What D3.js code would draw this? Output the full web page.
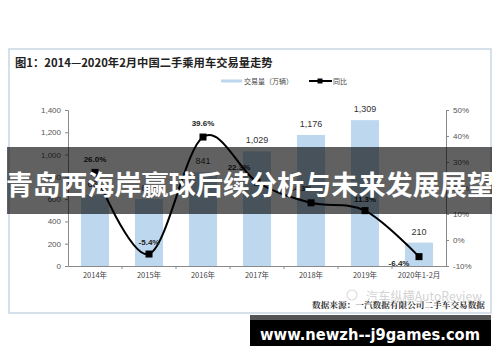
<!DOCTYPE html>
<html>
<head>
<meta charset="utf-8">
<script src="https://cdn.jsdelivr.net/npm/d3@7"></script>
<style>
html,body{margin:0;padding:0;background:#fff;}
svg{display:block;}
</style>
</head>
<body>
<svg id="chart" width="500" height="362"></svg>
<script>
const categories = ["2014年","2015年","2016年","2017年","2018年","2019年","2020年1-2月"];
const volumes = [637, 602, 841, 1029, 1176, 1309, 210];
const volumeLabels = ["637","602","841","1,029","1,176","1,309","210"];
const growth = [26.0, -5.4, 39.6, 22.3, 14.3, 11.3, -6.4];
const growthLabels = ["26.0%","-5.4%","39.6%","22.3%","14.3%","11.3%","-6.4%"];
const leftTicks = [0,200,400,600,800,1000,1200,1400];
const rightTicks = [-10,0,10,20,30,40,50];
const titleText = "图1：2014—2020年2月中国二手乘用车交易量走势";
const legendBar = "交易量（万辆）";
const legendLine = "同比";
const sourceText = "数据来源：一汽数据有限公司二手车交易数据";
const watermarkText = "汽车纵横AutoReview";
const bannerText = "青岛西海岸赢球后续分析与未来发展展望";
const urlText = "www.newzh--j9games.com";

// label placement (layout only)
const pctOffset = [[0,-13],[0,-12],[0,-14],[-18,-15],[-10,-15],[0,-12],[-20,6]];

const svg = d3.select("#chart");
const cjk = "'Noto Sans CJK SC','Liberation Sans',sans-serif";
const lat = "'Liberation Sans','Noto Sans',sans-serif";

// frame
svg.append("rect").attr("x",9).attr("y",49).attr("width",482).attr("height",264)
  .attr("fill","#fff").attr("stroke","#c9d6e3").attr("stroke-width",1.5);

svg.append("text").attr("x",15).attr("y",67).text(titleText)
  .attr("font-family",cjk).attr("font-weight","bold").attr("font-size",11.3).attr("fill","#222");

const x = d3.scaleBand().domain(categories).range([68,446]).paddingInner(0.48).paddingOuter(0.24);
const yL = d3.scaleLinear().domain([0,1400]).range([266,110]);
const yR = d3.scaleLinear().domain([-10,50]).range([266,110]);

// bars
svg.append("g").selectAll("rect").data(volumes).join("rect")
  .attr("x",(d,i)=>x(categories[i])).attr("width",x.bandwidth())
  .attr("y",d=>yL(d)).attr("height",d=>yL(0)-yL(d)).attr("fill","#bdd7ee");

svg.append("g").selectAll("text").data(volumes).join("text")
  .attr("x",(d,i)=>x(categories[i])+x.bandwidth()/2).attr("y",d=>yL(d)-8)
  .attr("text-anchor","middle").attr("font-family",lat).attr("font-size",9).attr("fill","#333")
  .text((d,i)=>volumeLabels[i]);

// axes
const axL = d3.axisLeft(yL).tickValues(leftTicks).tickSize(3).tickPadding(4).tickFormat(d3.format(","));
const gL = svg.append("g").attr("transform","translate(68,0)").call(axL);
const axR = d3.axisRight(yR).tickValues(rightTicks).tickSize(3).tickPadding(4).tickFormat(d=>d+"%");
const gR = svg.append("g").attr("transform","translate(446,0)").call(axR);
const axB = d3.axisBottom(x).tickSize(0).tickPadding(7);
const gB = svg.append("g").attr("transform","translate(0,266)").call(axB);
[gL,gR,gB].forEach(g=>{
  g.select(".domain").attr("stroke","#8a8a8a");
  g.selectAll(".tick line").attr("stroke","#8a8a8a");
  g.selectAll(".tick text").attr("fill","#555").attr("font-family",lat).attr("font-size",8);
});
gB.selectAll(".tick text").attr("font-family",cjk).attr("font-size",7.5).attr("fill","#444");
// band boundary tick marks on x axis
svg.append("g").selectAll("line").data(categories.slice(1)).join("line")
  .attr("x1",d=>x(d)-x.step()*x.paddingInner()/2).attr("x2",d=>x(d)-x.step()*x.paddingInner()/2)
  .attr("y1",266).attr("y2",269).attr("stroke","#8a8a8a");

// line
const line = d3.line().x((d,i)=>x(categories[i])+x.bandwidth()/2).y(d=>yR(d))
  .curve(d3.curveCardinal.tension(0));
svg.append("path").datum(growth).attr("d",line).attr("fill","none").attr("stroke","#000").attr("stroke-width",2);
svg.append("g").selectAll("rect").data(growth).join("rect")
  .attr("x",(d,i)=>x(categories[i])+x.bandwidth()/2-3.5).attr("y",d=>yR(d)-3.5)
  .attr("width",7).attr("height",7).attr("fill","#000");
svg.append("g").selectAll("text").data(growth).join("text")
  .attr("x",(d,i)=>x(categories[i])+x.bandwidth()/2+pctOffset[i][0])
  .attr("y",(d,i)=>yR(d)+pctOffset[i][1]+3)
  .attr("text-anchor","middle").attr("font-family",lat).attr("font-weight","bold")
  .attr("font-size",8).attr("fill","#222").text((d,i)=>growthLabels[i]);

// legend
svg.append("rect").attr("x",221).attr("y",79.5).attr("width",21).attr("height",3).attr("fill","#bdd7ee");
svg.append("text").attr("x",244).attr("y",84).text(legendBar)
  .attr("font-family",cjk).attr("font-size",7).attr("fill","#444");
svg.append("line").attr("x1",309).attr("x2",332).attr("y1",81).attr("y2",81).attr("stroke","#000").attr("stroke-width",2);
svg.append("rect").attr("x",317.5).attr("y",78.5).attr("width",5).attr("height",5).attr("fill","#000");
svg.append("text").attr("x",333).attr("y",84).text(legendLine)
  .attr("font-family",cjk).attr("font-size",7).attr("fill","#444");

// watermark + source
svg.append("circle").attr("cx",352).attr("cy",295).attr("r",5).attr("fill","none").attr("stroke","#ddd").attr("stroke-width",1.2);
svg.append("text").attr("x",366).attr("y",301).text(watermarkText)
  .attr("font-family",cjk).attr("font-size",13).attr("fill","#d4d4d4")
  .attr("textLength",116).attr("lengthAdjust","spacingAndGlyphs");
svg.append("text").attr("x",312).attr("y",308).text(sourceText)
  .attr("font-family","'Noto Serif CJK SC','Noto Sans CJK SC',serif").attr("font-weight","bold")
  .attr("font-size",8.5).attr("fill","#333").attr("textLength",173).attr("lengthAdjust","spacingAndGlyphs");

// overlay banner
svg.append("rect").attr("x",7).attr("y",147).attr("width",485).attr("height",67)
  .attr("fill","#000").attr("fill-opacity",0.62);
svg.append("text").attr("x",250).attr("y",195).attr("text-anchor","middle").text(bannerText)
  .attr("font-family",cjk).attr("font-weight","bold").attr("font-size",27).attr("fill","#fff")
  .attr("textLength",488).attr("lengthAdjust","spacingAndGlyphs");

// url banner
svg.append("rect").attr("x",250).attr("y",315).attr("width",241).attr("height",31).attr("fill","#000");
svg.append("rect").attr("x",250).attr("y",315).attr("width",241).attr("height",5).attr("fill","#555");
svg.append("text").attr("x",370).attr("y",340).attr("text-anchor","middle").text(urlText)
  .attr("font-family","'DejaVu Sans','Liberation Sans',sans-serif").attr("font-weight","bold")
  .attr("font-size",16).attr("fill","#fff").attr("textLength",220).attr("lengthAdjust","spacingAndGlyphs");
</script>
</body>
</html>
